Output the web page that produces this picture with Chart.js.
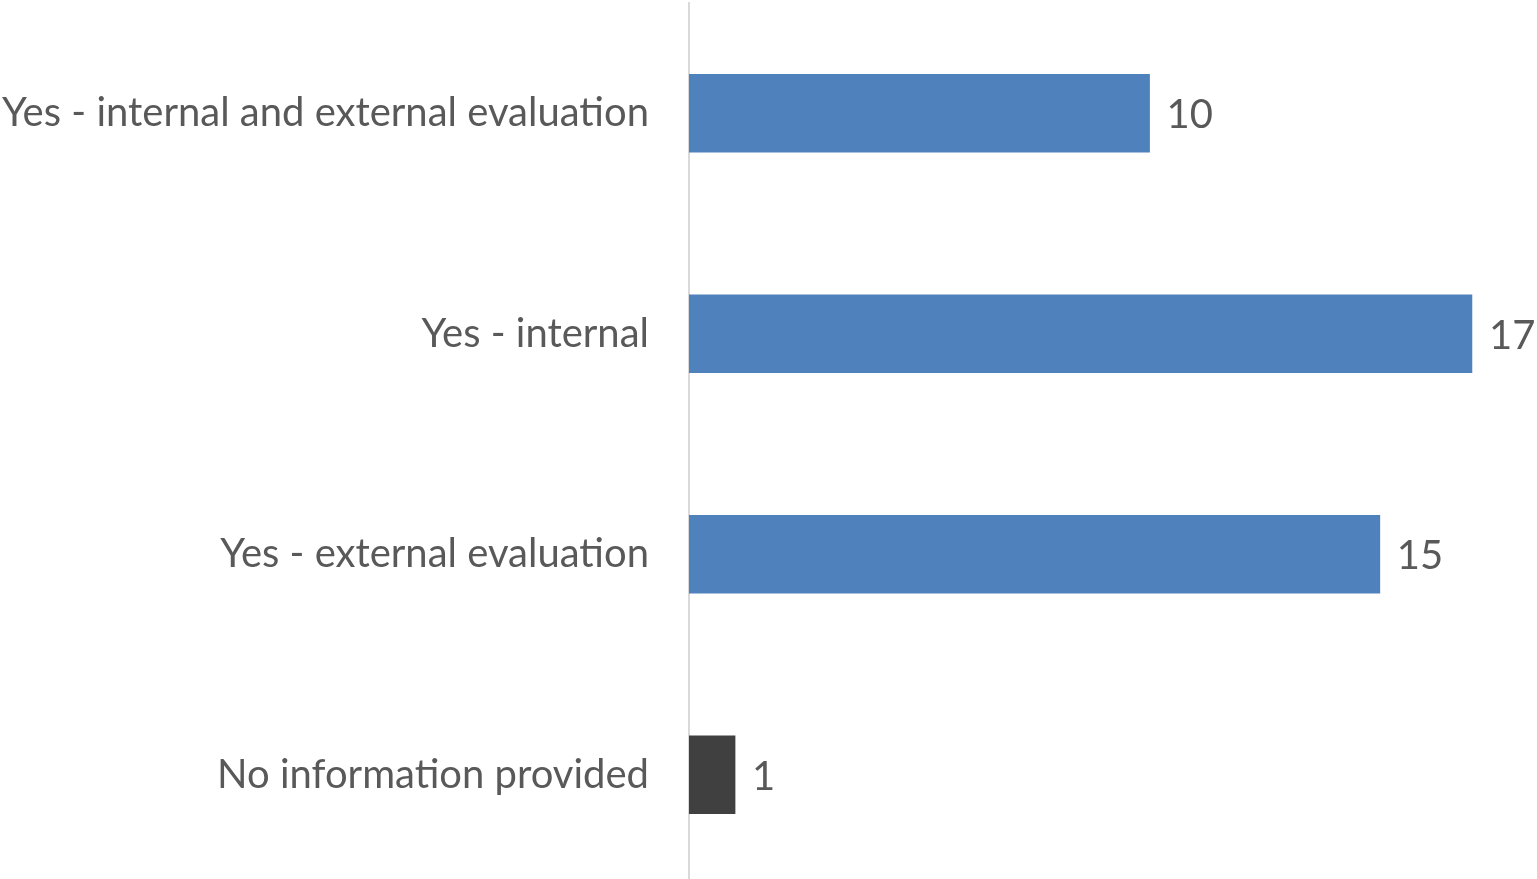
<!DOCTYPE html>
<html>
<head>
<meta charset="utf-8">
<script src="https://cdn.jsdelivr.net/npm/chart.js@4/dist/chart.umd.min.js"></script>
<style>
  html, body { margin: 0; padding: 0; background: #fff; overflow: hidden; }
  #wrap { width: 1537px; height: 886px; position: relative; }
</style>
</head>
<body>
<div id="wrap"><canvas id="evalChart"></canvas></div>
<script>
const categories = [
    'Yes - internal and external evaluation',
    'Yes - internal',
    'Yes - external evaluation',
    'No information provided'
]
const counts = [10, 17, 15, 1]
const barColors = ['#4F81BD', '#4F81BD', '#4F81BD', '#404040']

const labelFont = { family: 'Lato', size: 40 }

// value labels just past the end of each bar
const barValues = {
    id: 'barValues',
    afterDatasetsDraw(chart) {
        const ctx = chart.ctx
        const meta = chart.getDatasetMeta(0)
        ctx.save()
        ctx.font = labelFont.size + 'px ' + labelFont.family
        ctx.fillStyle = '#595959'
        ctx.textAlign = 'left'
        ctx.textBaseline = 'middle'
        meta.data.forEach((bar, i) => {
            ctx.fillText(String(counts[i]), bar.x + 17, bar.y + 2)
        })
        ctx.restore()
    }
}

const ctx = document.getElementById('evalChart').getContext('2d')
new Chart(ctx, {
    type: 'bar',
    data: {
        labels: categories,
        datasets: [{
            data: counts,
            backgroundColor: barColors,
            borderWidth: 0,
            barThickness: 78
        }]
    },
    options: {
        indexAxis: 'y',
        responsive: true,
        maintainAspectRatio: false,
        animation: false,
        layout: { padding: { left: 0, right: 19, top: 3, bottom: 1 } },
        plugins: {
            legend: { display: false },
            tooltip: { enabled: false }
        },
        scales: {
            x: {
                display: false,
                min: 0,
                max: 18
            },
            y: {
                grid: { display: false },
                border: { display: true, color: '#D9D9D9', width: 2 },
                ticks: {
                    color: '#595959',
                    font: labelFont,
                    padding: 32
                },
                afterFit(scale) {
                    scale.width = 689
                    scale.paddingTop = 0
                    scale.paddingBottom = 0
                }
            }
        }
    },
    plugins: [barValues]
})
</script>
</body>
</html>
